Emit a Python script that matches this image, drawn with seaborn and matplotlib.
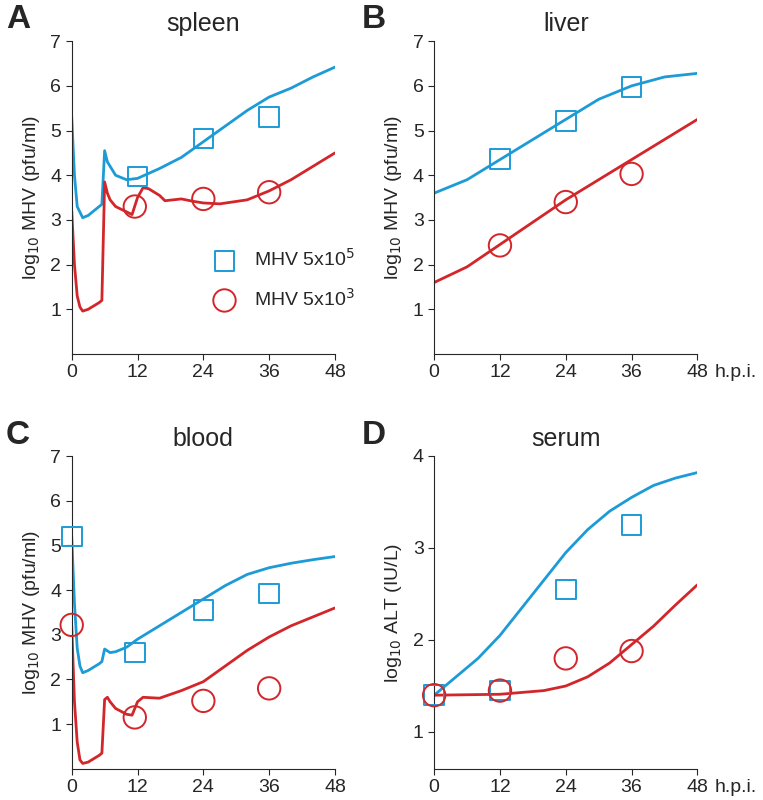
import numpy as np
import pandas as pd
import matplotlib
matplotlib.use("Agg")
import matplotlib.pyplot as plt
import seaborn as sns

sns.set_style("ticks")
plt.rcParams['font.family'] = ['Liberation Sans', 'DejaVu Sans']

BLUE = "#1c9bd7"
RED = "#d3262a"

# spleen
spl_hi_t = [0, 0.5, 1, 2, 3, 5, 5.5, 6, 6.5, 7, 8, 10, 12, 16, 20, 24, 28, 32, 36, 40, 44, 48]
spl_hi_v = [5.3, 4.0, 3.3, 3.05, 3.1, 3.3, 3.35, 4.55, 4.3, 4.2, 4.0, 3.9, 3.93, 4.15, 4.4, 4.75, 5.1, 5.45, 5.75, 5.95, 6.2, 6.42]
spl_lo_t = [0, 0.5, 1, 1.5, 2, 3, 5, 5.5, 6, 6.5, 7, 8, 10, 11, 12, 13, 14, 16, 17, 20, 22, 24, 27, 32, 36, 40, 44, 48]
spl_lo_v = [3.2, 2.0, 1.3, 1.05, 0.96, 1.0, 1.15, 1.2, 3.85, 3.6, 3.45, 3.3, 3.18, 3.12, 3.5, 3.72, 3.7, 3.55, 3.43, 3.47, 3.42, 3.38, 3.36, 3.45, 3.65, 3.9, 4.2, 4.5]
spl_hi_obs_t, spl_hi_obs = [12, 24, 36], [3.97, 4.82, 5.3]
spl_lo_obs_t, spl_lo_obs = [11.5, 24, 36], [3.3, 3.47, 3.62]

# liver
liv_t = [0, 6, 12, 18, 24, 30, 36, 42, 48]
liv_hi_v = [3.6, 3.9, 4.35, 4.8, 5.25, 5.7, 6.0, 6.2, 6.28]
liv_lo_v = [1.6, 1.95, 2.45, 2.95, 3.45, 3.9, 4.35, 4.8, 5.25]
liv_hi_obs_t, liv_hi_obs = [12, 24, 36], [4.37, 5.22, 5.97]
liv_lo_obs_t, liv_lo_obs = [12, 24, 36], [2.43, 3.4, 4.03]

# blood
bld_hi_t = [0, 0.5, 1, 1.5, 2, 3, 5, 5.5, 6, 7, 8, 10, 12, 16, 20, 24, 28, 32, 36, 40, 44, 48]
bld_hi_v = [5.2, 3.7, 2.7, 2.3, 2.15, 2.2, 2.35, 2.4, 2.68, 2.6, 2.62, 2.72, 2.9, 3.2, 3.5, 3.8, 4.1, 4.35, 4.5, 4.6, 4.68, 4.75]
bld_lo_t = [0, 0.5, 1, 1.5, 2, 3, 5, 5.5, 6, 6.5, 7, 8, 10, 11, 12, 13, 16, 20, 24, 28, 32, 36, 40, 44, 48]
bld_lo_v = [3.2, 1.5, 0.6, 0.2, 0.12, 0.15, 0.3, 0.35, 1.55, 1.6, 1.5, 1.35, 1.22, 1.2, 1.5, 1.6, 1.58, 1.75, 1.95, 2.3, 2.65, 2.95, 3.2, 3.4, 3.6]
bld_hi_obs_t, bld_hi_obs = [0, 11.5, 24, 36], [5.2, 2.6, 3.55, 3.92]
bld_lo_obs_t, bld_lo_obs = [0, 11.5, 24, 36], [3.22, 1.15, 1.52, 1.8]

# serum
ser_hi_t = [0, 4, 8, 12, 16, 20, 24, 28, 32, 36, 40, 44, 48]
ser_hi_v = [1.4, 1.6, 1.8, 2.05, 2.35, 2.65, 2.95, 3.2, 3.4, 3.55, 3.68, 3.76, 3.82]
ser_lo_t = [0, 12, 20, 24, 28, 32, 36, 40, 44, 48]
ser_lo_v = [1.4, 1.41, 1.45, 1.5, 1.6, 1.75, 1.95, 2.15, 2.38, 2.6]
ser_hi_obs_t, ser_hi_obs = [0, 12, 24, 36], [1.4, 1.45, 2.55, 3.25]
ser_lo_obs_t, ser_lo_obs = [0, 12, 24, 36], [1.4, 1.45, 1.8, 1.88]

xticks = [0, 12, 24, 36, 48]

fig = plt.figure(figsize=(7.63, 8), dpi=100)
rects = [[0.094, 0.5575, 0.345, 0.391], [0.569, 0.5575, 0.345, 0.391],
         [0.094, 0.039, 0.345, 0.391], [0.569, 0.039, 0.345, 0.391]]
letter_pos = [(0.008, 0.975), (0.474, 0.975), (0.008, 0.455), (0.474, 0.455)]

panels = [
    ("A", "spleen", spl_hi_t, spl_hi_v, spl_lo_t, spl_lo_v, spl_hi_obs_t, spl_hi_obs, spl_lo_obs_t, spl_lo_obs, (0, 7), [1, 2, 3, 4, 5, 6, 7], r"log$_{10}$ MHV (pfu/ml)"),
    ("B", "liver", liv_t, liv_hi_v, liv_t, liv_lo_v, liv_hi_obs_t, liv_hi_obs, liv_lo_obs_t, liv_lo_obs, (0, 7), [1, 2, 3, 4, 5, 6, 7], r"log$_{10}$ MHV (pfu/ml)"),
    ("C", "blood", bld_hi_t, bld_hi_v, bld_lo_t, bld_lo_v, bld_hi_obs_t, bld_hi_obs, bld_lo_obs_t, bld_lo_obs, (0, 7), [1, 2, 3, 4, 5, 6, 7], r"log$_{10}$ MHV (pfu/ml)"),
    ("D", "serum", ser_hi_t, ser_hi_v, ser_lo_t, ser_lo_v, ser_hi_obs_t, ser_hi_obs, ser_lo_obs_t, ser_lo_obs, (0.6, 4), [1, 2, 3, 4], r"log$_{10}$ ALT (IU/L)"),
]

for i, (rect, p) in enumerate(zip(rects, panels)):
    letter, title, ht, hv, lt, lv, hot, ho, lot, lo, ylim, yt, ylab = p
    ax = fig.add_axes(rect)
    sns.lineplot(x=ht, y=hv, ax=ax, color=BLUE, lw=2)
    sns.lineplot(x=lt, y=lv, ax=ax, color=RED, lw=2)
    ax.scatter(hot, ho, marker="s", s=200, facecolors="none", edgecolors=BLUE, linewidths=1.4, zorder=3, clip_on=False,
               label="MHV 5x10$^5$")
    ax.scatter(lot, lo, marker="o", s=260, facecolors="none", edgecolors=RED, linewidths=1.4, zorder=3, clip_on=False,
               label="MHV 5x10$^3$")
    ax.set_xlim(0, 48)
    ax.set_ylim(*ylim)
    ax.set_xticks(xticks)
    ax.set_yticks(yt)
    ax.tick_params(labelsize=14, direction="out", length=4)
    ax.set_ylabel(ylab, fontsize=14, labelpad=6)
    ax.text(0.5, 1.055, title, transform=ax.transAxes, fontsize=18, ha="center", va="center")
    sns.despine(ax=ax)
    fig.text(letter_pos[i][0], letter_pos[i][1], letter, fontsize=24, fontweight="bold", va="center")
    if letter in ("B", "D"):
        ax.text(1.065, -0.06, "h.p.i.", transform=ax.transAxes, fontsize=14, va="center", ha="left")
    if letter == "A":
        ax.legend(loc="center left", bbox_to_anchor=(0.44, 0.24), frameon=False, fontsize=14,
                  handletextpad=0.5, labelspacing=0.9)

fig.savefig("out.png", dpi=100)
